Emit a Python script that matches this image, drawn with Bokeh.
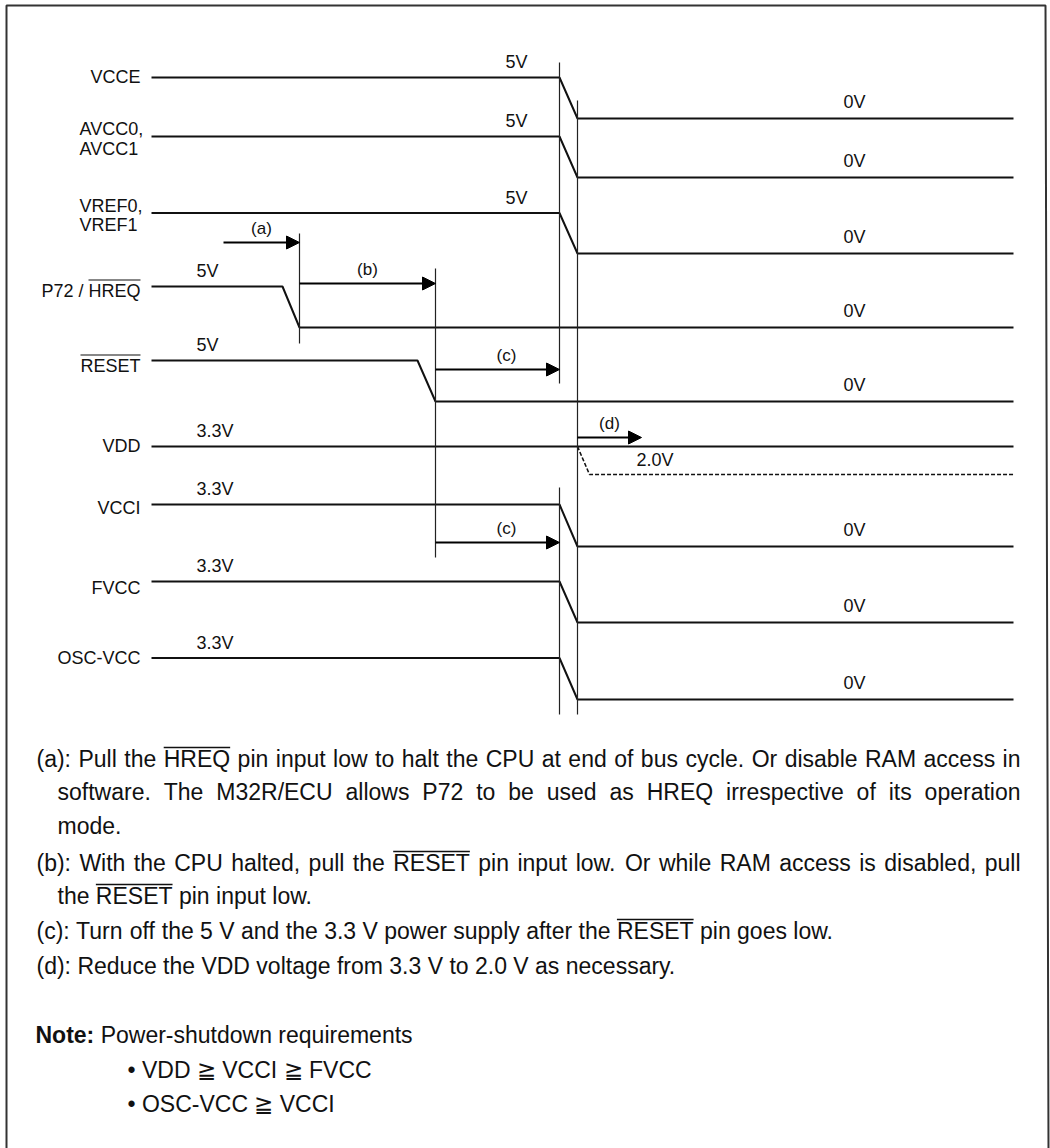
from bokeh.plotting import figure
from bokeh.models import Range1d, Arrow, NormalHead
from bokeh.core.properties import value
from bokeh.embed import file_html
from bokeh.resources import INLINE

# ---------------- data (timing diagram, in reference pixel units) ----------------
signal_names = ["VCCE", "AVCC0,|AVCC1", "VREF0,|VREF1", "P72 / ~HREQ~", "~RESET~",
                "VDD", "VCCI", "FVCC", "OSC-VCC"]
high_level = ["5V", "5V", "5V", "5V", "5V", "3.3V", "3.3V", "3.3V", "3.3V"]
low_level = ["0V", "0V", "0V", "0V", "0V", "", "0V", "0V", "0V"]
y_high = [77, 136, 212.5, 286, 360, 446, 504, 581, 657.5]
y_low = [118, 177, 253, 327, 401, None, 546, 622, 699]
t_fall_start = [559, 559, 559, 282, 417, None, 559, 559, 559]
t_fall_end = [577, 577, 577, 299, 435, None, 577, 577, 577]
t_begin = 151
t_finish = 1013

# VDD optional reduction to 2.0 V
vdd_reduce_t = [577, 589, 1013]
vdd_reduce_y = [446, 474, 474]
vdd_reduce_label = "2.0V"

# timing marker lines
marker_t = [299, 435, 559, 559, 577]
marker_top = [233, 268, 62, 487, 100]
marker_bottom = [343, 557, 383, 714, 714]

# timing arrows
arrow_labels = ["(a)", "(b)", "(c)", "(c)", "(d)"]
arrow_t0 = [223, 299, 435, 435, 577]
arrow_t1 = [299, 435, 559, 559, 641]
arrow_y = [242, 283, 369, 542, 437]

# explanatory notes (~word~ = overlined)
note_lines = [
    "(a): Pull the ~HREQ~ pin input low to halt the CPU at end of bus cycle. Or disable RAM access in",
    "software. The M32R/ECU allows P72 to be used as HREQ irrespective of its operation",
    "mode.",
    "(b): With the CPU halted, pull the ~RESET~ pin input low. Or while RAM access is disabled, pull",
    "the ~RESET~ pin input low.",
    "(c): Turn off the 5 V and the 3.3 V power supply after the ~RESET~ pin goes low.",
    "(d): Reduce the VDD voltage from 3.3 V to 2.0 V as necessary.",
]
note_justified = [True, True, False, True, False, False, False]
note_indent = [0, 1, 1, 0, 1, 0, 0]
req_title = "Note:"
req_text = "Power-shutdown requirements"
req_items = ["\u2022 VDD \u2267 VCCI \u2267 FVCC", "\u2022 OSC-VCC \u2267 VCCI"]

# ---------------- layout / style ----------------
FONT = "Liberation Sans"
LBL = 18
SMALL = 17
NOTE = 23
BL = 0.39  # svg text sits this many font-sizes below the requested alphabetic baseline


def base(y, fs):
    return y - BL * fs


AW = {' ': 278, '!': 278, '(': 333, ')': 333, ',': 278, '-': 333, '.': 278, '/': 278, ':': 278,
      'A': 667, 'B': 667, 'C': 722, 'D': 722, 'E': 667, 'F': 611, 'G': 778, 'H': 722, 'I': 278,
      'J': 500, 'K': 667, 'L': 556, 'M': 833, 'N': 722, 'O': 778, 'P': 667, 'Q': 778, 'R': 722,
      'S': 667, 'T': 611, 'U': 722, 'V': 667, 'W': 944, 'X': 667, 'Y': 667, 'Z': 611,
      'a': 556, 'b': 556, 'c': 500, 'd': 556, 'e': 556, 'f': 278, 'g': 556, 'h': 556, 'i': 222,
      'j': 222, 'k': 500, 'l': 222, 'm': 833, 'n': 556, 'o': 556, 'p': 556, 'q': 556, 'r': 333,
      's': 500, 't': 278, 'u': 556, 'v': 500, 'w': 722, 'x': 500, 'y': 500, 'z': 500}
for d in "0123456789":
    AW[d] = 556


def tw(s, fs):
    return sum(AW.get(c, 556) for c in s) * fs / 1000.0


W, H = 1050, 1148
p = figure(width=W, height=H, x_range=Range1d(0, W), y_range=Range1d(H, 0),
           output_backend="svg", toolbar_location=None, min_border=0,
           x_axis_location=None, y_axis_location=None)
p.grid.visible = False
p.outline_line_color = None
p.background_fill_color = "white"
p.border_fill_color = "white"

INK = "#111111"

# frame
p.line([6, 6, 1045, 1048], [H, 5, 5, H], line_color="#333333", line_width=2)

# waveforms
xs, ys = [], []
for i in range(len(signal_names)):
    if t_fall_start[i] is None:
        xs.append([t_begin, t_finish])
        ys.append([y_high[i], y_high[i]])
    else:
        xs.append([t_begin, t_fall_start[i], t_fall_end[i], t_finish])
        ys.append([y_high[i], y_high[i], y_low[i], y_low[i]])
p.multi_line(xs, ys, line_color=INK, line_width=2)
p.line(vdd_reduce_t, vdd_reduce_y, line_color=INK, line_width=1.6, line_dash="4 2")

# markers
p.segment(x0=marker_t, y0=marker_top, x1=marker_t, y1=marker_bottom, line_color="#222222", line_width=1.2)

# arrows
for x0, x1, y in zip(arrow_t0, arrow_t1, arrow_y):
    p.add_layout(Arrow(end=NormalHead(size=13, fill_color="black", line_color="black", line_width=1),
                       x_start=x0, y_start=y, x_end=x1, y_end=y, line_color="black", line_width=2))
lab_cx = [(a + b) / 2 for a, b in zip(arrow_t0, arrow_t1)]
lab_cx = [c + (9 if l == "(c)" else 0) for c, l in zip(lab_cx, arrow_labels)]
p.text(x=lab_cx, y=[base(y - 7, SMALL) for y in arrow_y], text=arrow_labels, text_font=value(FONT),
       text_font_size=f"{SMALL}px", text_align="center", text_baseline="alphabetic", text_color=INK)

# level labels
hx, hy, ht = [], [], []
lx, ly, lt = [], [], []
for i in range(len(signal_names)):
    late = high_level[i] == "5V" and (t_fall_start[i] or 0) > 500
    hx.append(505 if late else 196)
    hy.append(base(y_high[i] - 8, LBL))
    ht.append(high_level[i])
    if low_level[i]:
        lx.append(843)
        ly.append(base(y_low[i] - 9, LBL))
        lt.append(low_level[i])
lx.append(636); ly.append(base(vdd_reduce_y[-1] - 7, LBL)); lt.append(vdd_reduce_label)
p.text(x=hx + lx, y=hy + ly, text=ht + lt, text_font=value(FONT), text_font_size=f"{LBL}px",
       text_align="left", text_baseline="alphabetic", text_color=INK)

# signal names
name_base_dy = [6.5, 0, 0, 12, 13, 6.7, 11, 14, 7.5]
nx, ny, nt, na = [], [], [], []
ox0, ox1, oy = [], [], []
for i, nm in enumerate(signal_names):
    if "|" in nm:
        a, b = nm.split("|")
        nx += [79, 79]; ny += [base(y_high[i], LBL), base(y_high[i] + 19.5, LBL)]
        nt += [a, b]; na += ["left", "left"]
    else:
        plain = nm.replace("~", "")
        bl = y_high[i] + name_base_dy[i]
        nx.append(140); ny.append(base(bl, LBL)); nt.append(plain); na.append("right")
        if "~" in nm:
            ov = nm.split("~")[1]
            ox1.append(140); ox0.append(140 - tw(ov, LBL)); oy.append(bl - 18.5)
p.text(x=nx, y=ny, text=nt, text_align=na, text_font=value(FONT), text_font_size=f"{LBL}px",
       text_baseline="alphabetic", text_color=INK)
p.segment(x0=ox0, y0=oy, x1=ox1, y1=oy, line_color=INK, line_width=1.2)

# explanatory notes
note_base = [767, 800, 834, 871, 904, 939, 974]
indent_x = [36, 57]
RIGHT = 1020
wx, wy, wt = [], [], []
nox0, nox1, noy = [], [], []
for line, just, ind, bl in zip(note_lines, note_justified, note_indent, note_base):
    words = line.split(" ")
    plain = [w.replace("~", "") for w in words]
    widths = [tw(w, NOTE) for w in plain]
    x = indent_x[ind]
    gap = tw(" ", NOTE)
    if just and len(words) > 1:
        gap = (RIGHT - x - sum(widths)) / (len(words) - 1)
    for w, pw, ww in zip(words, plain, widths):
        wx.append(x); wy.append(base(bl, NOTE)); wt.append(pw)
        if "~" in w:
            nox0.append(x); nox1.append(x + ww); noy.append(bl - 20)
        x += ww + gap
p.text(x=wx, y=wy, text=wt, text_font=value(FONT), text_font_size=f"{NOTE}px",
       text_align="left", text_baseline="alphabetic", text_color=INK)
p.segment(x0=nox0, y0=noy, x1=nox1, y1=noy, line_color=INK, line_width=1.3)

# requirements note
req_base = [1043, 1078, 1112]
p.text(x=[35], y=[base(req_base[0], NOTE)], text=[req_title], text_font=value(FONT),
       text_font_size=f"{NOTE}px", text_font_style="bold", text_align="left",
       text_baseline="alphabetic", text_color=INK)
p.text(x=[35 + 2.555 * NOTE + tw(" ", NOTE)] + [127] * len(req_items),
       y=[base(b, NOTE) for b in req_base], text=[req_text] + req_items, text_font=value(FONT),
       text_font_size=f"{NOTE}px", text_align="left", text_baseline="alphabetic", text_color=INK)

open("out.html", "w").write(file_html(p, INLINE))
